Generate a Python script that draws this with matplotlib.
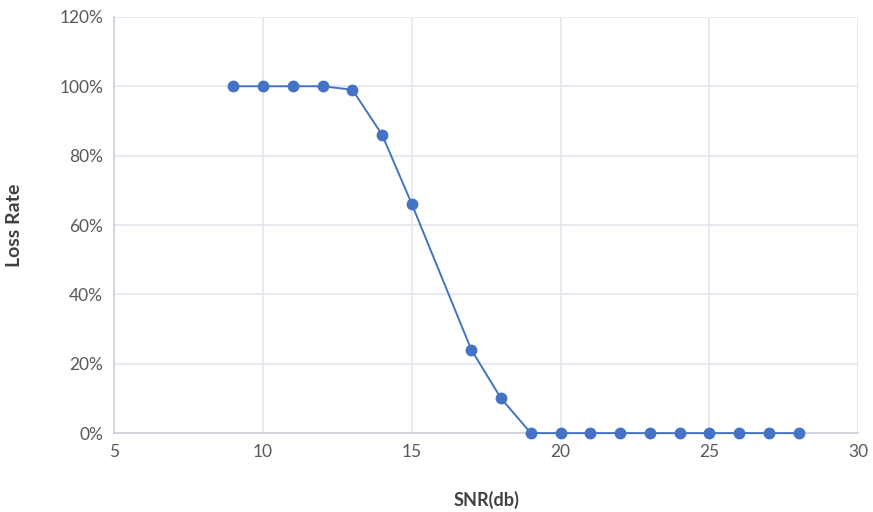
import matplotlib
matplotlib.use("Agg")
import matplotlib.pyplot as plt
from matplotlib.ticker import PercentFormatter

plt.rcParams['font.family'] = ['Lato', 'DejaVu Sans']

# Data
snr = [9, 10, 11, 12, 13, 14, 15, 17, 18, 19, 20, 21, 22, 23, 24, 25, 26, 27, 28]
loss = [100, 100, 100, 100, 99, 86, 66, 24, 10, 0, 0, 0, 0, 0, 0, 0, 0, 0, 0]

fig = plt.figure(figsize=(8.73, 5.12), dpi=100)
ax = fig.add_axes([0.131, 0.154, 0.852, 0.813])

ax.plot(snr, loss, color='#4472C4', marker='o', markersize=7.5, linewidth=1.4,
        clip_on=False, zorder=3)

ax.set_xlim(5, 30)
ax.set_ylim(0, 120)
ax.set_xticks(range(5, 31, 5))
ax.set_yticks(range(0, 121, 20))
ax.yaxis.set_major_formatter(PercentFormatter(decimals=0))

ax.grid(True, color='#E3E6EE', linewidth=1.2)
ax.set_axisbelow(True)
for side in ['top', 'right']:
    ax.spines[side].set_visible(False)
for side in ['left', 'bottom']:
    ax.spines[side].set_color('#C9CFDB')
    ax.spines[side].set_linewidth(1.2)
ax.tick_params(length=0, labelsize=12.5, colors='#595959', pad=8)

ax.set_xlabel("SNR(db)", fontsize=13, fontweight='bold', color='#404040', labelpad=22)
ax.set_ylabel("Loss Rate", fontsize=14, fontweight='bold', color='#404040', labelpad=26)

fig.savefig("out.png", dpi=100)
